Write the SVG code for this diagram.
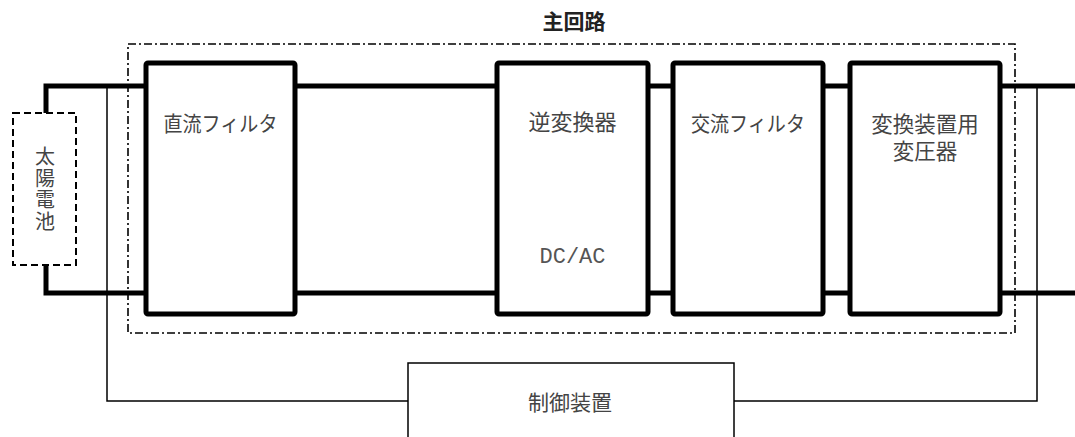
<svg xmlns="http://www.w3.org/2000/svg" width="1075" height="437" viewBox="0 0 1075 437">
<style>
.t{font-family:"Noto Sans CJK JP","Noto Sans",sans-serif;font-size:21px;fill:#444;text-anchor:middle}
.box{fill:#fff;stroke:#000;stroke-width:5}
.wire{fill:none;stroke:#000;stroke-width:5}
.thin{fill:none;stroke:#000;stroke-width:1.5}
</style>
<rect x="0" y="0" width="1075" height="437" fill="#fff"/>
<g id="connectors">
<path class="wire" d="M46,113 V86 H1075"/>
<path class="wire" d="M46,265 V293 H1075"/>
<path class="thin" d="M107,86 V401 H408"/>
<path class="thin" d="M1037,86 V401 H734"/>
</g>
<g id="main-circuit">
<rect x="128" y="44" width="887" height="289" fill="none" stroke="#000" stroke-width="1.6" stroke-dasharray="8 3 2 3"/>
<text x="574" y="29" style="font-family:'Noto Sans CJK JP','Noto Sans',sans-serif;font-size:21px;font-weight:bold;fill:#222;text-anchor:middle">主回路</text>
</g>
<g id="solar">
<rect x="13" y="113" width="63" height="152" fill="#fff" stroke="#000" stroke-width="2" stroke-dasharray="7 4"/>
<text class="t" x="45" y="189.5" writing-mode="vertical-rl" style="font-size:20px;letter-spacing:1.5px">太陽電池</text>
</g>
<g id="dc-filter">
<rect class="box" x="146" y="63" width="149" height="251" rx="2"/>
<text class="t" x="220.5" y="131" textLength="114" lengthAdjust="spacingAndGlyphs">直流フィルタ</text>
</g>
<g id="inverter">
<rect class="box" x="497" y="63" width="151" height="251" rx="2"/>
<text class="t" x="572.5" y="130" style="font-size:22px">逆変換器</text>
<text x="572.5" y="263" style="font-family:'Liberation Mono',monospace;font-size:22px;fill:#555;text-anchor:middle">DC/AC</text>
</g>
<g id="ac-filter">
<rect class="box" x="673" y="63" width="150" height="251" rx="2"/>
<text class="t" x="748" y="131" textLength="114" lengthAdjust="spacingAndGlyphs">交流フィルタ</text>
</g>
<g id="transformer">
<rect class="box" x="850" y="63" width="150" height="251" rx="2"/>
<text class="t" style="font-size:21.5px"><tspan x="925" y="132">変換装置用</tspan><tspan x="925" y="159">変圧器</tspan></text>
</g>
<g id="controller">
<rect x="408" y="363" width="326" height="90" fill="#fff" stroke="#000" stroke-width="1.5"/>
<text class="t" x="570" y="410">制御装置</text>
</g>
</svg>
